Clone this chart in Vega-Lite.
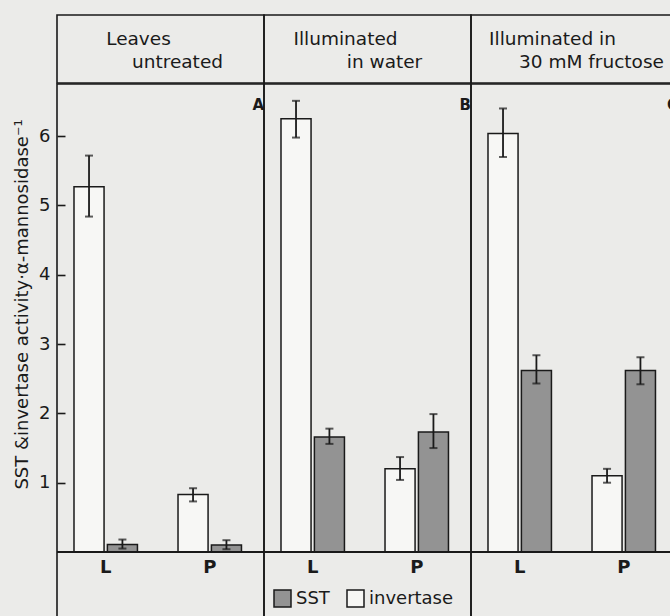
{
  "$schema": "https://vega.github.io/schema/vega-lite/v6.json",
  "background": "#ebebe9",
  "padding": {"left": 13, "top": 14, "right": 0, "bottom": 0},
  "spacing": -2,
  "config": {
    "font": "DejaVu Sans",
    "view": {"stroke": "#1a1a1a", "strokeWidth": 1.6},
    "axis": {"labelColor": "#1a1a1a", "titleColor": "#1a1a1a"}
  },
  "vconcat": [
    {
      "data": {"values": [
        {"panel": "A", "line1": "Leaves", "line2": "untreated"},
        {"panel": "B", "line1": "Illuminated", "line2": "in water"},
        {"panel": "C", "line1": "Illuminated in", "line2": "30 mM fructose"}
      ]},
      "facet": {"column": {"field": "panel", "type": "nominal", "header": {"labels": false, "title": null}}},
      "spacing": 0,
      "bounds": "flush",
      "spec": {
        "width": 207,
        "height": 68,
        "view": {"stroke": "#1a1a1a", "strokeWidth": 1.6},
        "layer": [
          {"mark": {"type": "text", "fontSize": 18.5, "baseline": "alphabetic", "align": "center", "dx": -22, "dy": -4, "color": "#1a1a1a"},
           "encoding": {"text": {"field": "line1"}}},
          {"mark": {"type": "text", "fontSize": 18.5, "baseline": "alphabetic", "align": "center", "dx": 17, "dy": 19, "color": "#1a1a1a"},
           "encoding": {"text": {"field": "line2"}}}
        ]
      }
    },
    {
      "data": {"values": [
        {"panel": "A", "organ": "L", "enzyme": "invertase", "value": 5.27, "lo": 4.84, "hi": 5.72},
        {"panel": "A", "organ": "L", "enzyme": "SST", "value": 0.11, "lo": 0.05, "hi": 0.18},
        {"panel": "A", "organ": "P", "enzyme": "invertase", "value": 0.83, "lo": 0.73, "hi": 0.92},
        {"panel": "A", "organ": "P", "enzyme": "SST", "value": 0.1, "lo": 0.04, "hi": 0.17},
        {"panel": "B", "organ": "L", "enzyme": "invertase", "value": 6.25, "lo": 5.98, "hi": 6.51},
        {"panel": "B", "organ": "L", "enzyme": "SST", "value": 1.66, "lo": 1.56, "hi": 1.78},
        {"panel": "B", "organ": "P", "enzyme": "invertase", "value": 1.2, "lo": 1.04, "hi": 1.37},
        {"panel": "B", "organ": "P", "enzyme": "SST", "value": 1.73, "lo": 1.5, "hi": 1.99},
        {"panel": "C", "organ": "L", "enzyme": "invertase", "value": 6.04, "lo": 5.7, "hi": 6.4},
        {"panel": "C", "organ": "L", "enzyme": "SST", "value": 2.62, "lo": 2.43, "hi": 2.84},
        {"panel": "C", "organ": "P", "enzyme": "invertase", "value": 1.1, "lo": 1.0, "hi": 1.2},
        {"panel": "C", "organ": "P", "enzyme": "SST", "value": 2.62, "lo": 2.42, "hi": 2.81}
      ]},
      "facet": {"column": {"field": "panel", "type": "nominal", "header": {
        "title": null, "labelOrient": "top", "labelAnchor": "end", "labelPadding": -29,
        "labelFontSize": 15, "labelFontWeight": "bold", "labelFont": "DejaVu Sans", "labelColor": "#1a1a1a"}}},
      "spacing": 0,
      "bounds": "flush",
      "spec": {
        "width": 207,
        "height": 545,
        "encoding": {
          "x": {"field": "organ", "type": "nominal",
                "scale": {"paddingInner": 0.39, "paddingOuter": 0.19, "align": 0.43},
                "axis": {"title": null, "offset": -77, "domain": false, "ticks": false, "labelPadding": 6,
                         "labelFontSize": 18, "labelAngle": 0, "labelFontWeight": "bold"}},
          "xOffset": {"field": "enzyme", "type": "nominal", "sort": ["invertase", "SST"], "scale": {"paddingInner": 0.1}}
        },
        "layer": [
          {"mark": {"type": "bar", "stroke": "#1a1a1a", "strokeWidth": 1.5},
           "encoding": {
             "y": {"field": "value", "type": "quantitative",
                   "scale": {"domain": [-1.111, 6.753], "nice": false, "zero": false},
                   "axis": {"values": [1, 2, 3, 4, 5, 6], "format": "d", "title": "SST &invertase activity·α-mannosidase⁻¹",
                            "grid": false, "domain": false, "offset": -8, "tickSize": 8, "tickWidth": 1.6, "tickColor": "#1a1a1a",
                            "zindex": 2,
                            "labelPadding": 7, "labelFontSize": 18, "titleFontSize": 18, "titleFontWeight": "normal",
                            "titlePadding": 7, "titleY": 220}},
             "fill": {"field": "enzyme", "type": "nominal",
                      "scale": {"domain": ["SST", "invertase"], "range": ["#939393", "#f7f7f5"]},
                      "legend": {"title": null, "orient": "none", "direction": "horizontal", "legendX": 216, "legendY": 574,
                                 "symbolType": "square", "symbolSize": 289, "symbolStrokeColor": "#1a1a1a",
                                 "symbolStrokeWidth": 1.5, "labelFontSize": 18, "labelColor": "#1a1a1a",
                                 "labelOffset": 4, "columnPadding": 14}}
           }},
          {"mark": {"type": "rule", "color": "#1a1a1a", "strokeWidth": 1.8},
           "encoding": {"y": {"field": "lo", "type": "quantitative"}, "y2": {"field": "hi"}}},
          {"mark": {"type": "tick", "color": "#1a1a1a", "size": 8, "thickness": 2},
           "encoding": {"y": {"field": "lo", "type": "quantitative"}}},
          {"mark": {"type": "tick", "color": "#1a1a1a", "size": 8, "thickness": 2},
           "encoding": {"y": {"field": "hi", "type": "quantitative"}}},
          {"mark": {"type": "rule", "color": "#1a1a1a", "strokeWidth": 1.5},
           "encoding": {"x": null, "xOffset": null, "y": {"datum": 0}}}
        ]
      }
    }
  ]
}
